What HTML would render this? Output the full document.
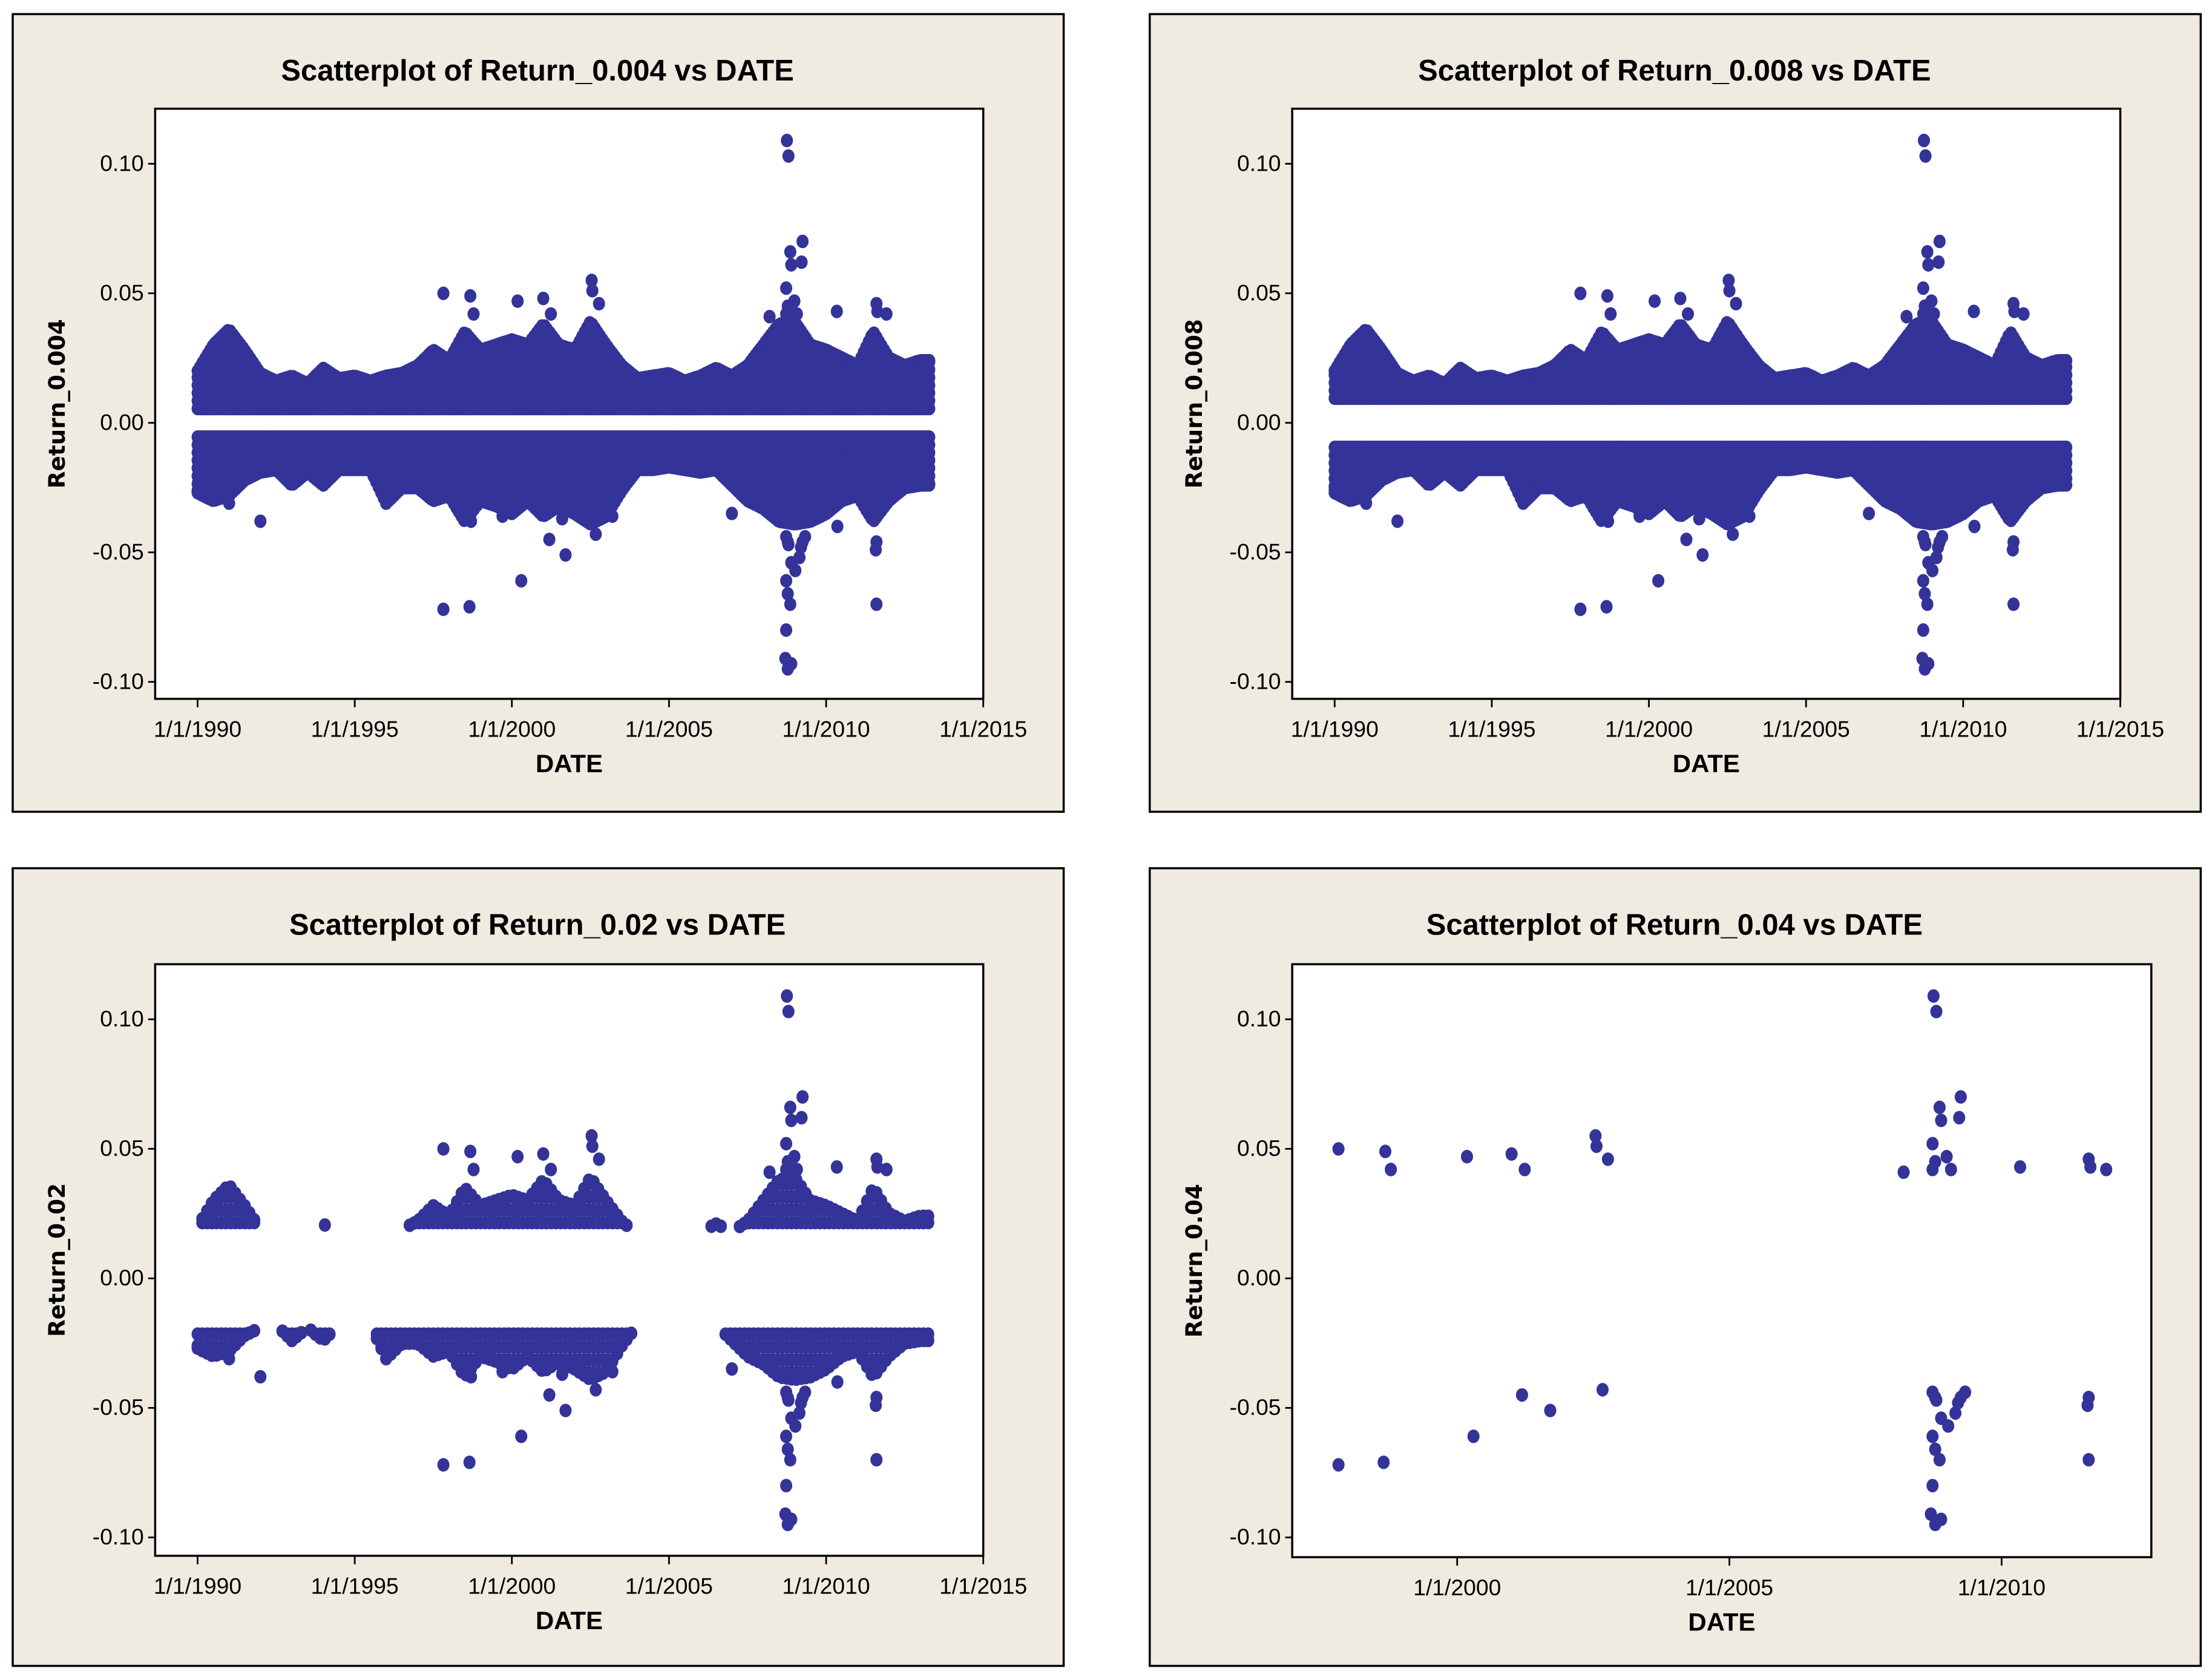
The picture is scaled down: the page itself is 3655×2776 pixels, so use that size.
<!DOCTYPE html>
<html><head><meta charset="utf-8"><style>
html,body{margin:0;padding:0;background:#fff;}
svg{display:block;}
text{font-family:"Liberation Sans Narrow","Liberation Sans",sans-serif;fill:#000;}
</style></head><body>
<svg id="chart" xmlns="http://www.w3.org/2000/svg" width="3655" height="2776" viewBox="0 0 1568 1190" preserveAspectRatio="none"></svg>
<script>
// Dense-band envelope (half-year resolution)
const envYears = [];
for (let y = 1990.0; y <= 2013.01; y += 0.5) envYears.push(Math.round(y*10)/10);
const envUpper = [0.020,0.030,0.036,0.028,0.019,0.016,0.018,0.015,0.021,0.017,0.018,0.016,0.018,0.019,0.022,0.028,0.024,0.035,0.028,0.030,0.032,0.030,0.038,0.030,0.028,0.039,0.030,0.022,0.017,0.018,0.019,0.016,0.018,0.021,0.018,0.022,0.030,0.038,0.039,0.030,0.028,0.025,0.022,0.035,0.025,0.022,0.024];
const envLower = [-0.027,-0.030,-0.028,-0.022,-0.019,-0.018,-0.024,-0.019,-0.024,-0.018,-0.018,-0.018,-0.031,-0.025,-0.025,-0.030,-0.028,-0.038,-0.030,-0.032,-0.035,-0.030,-0.036,-0.032,-0.035,-0.039,-0.036,-0.026,-0.018,-0.018,-0.017,-0.018,-0.019,-0.018,-0.024,-0.030,-0.033,-0.038,-0.039,-0.038,-0.035,-0.030,-0.028,-0.038,-0.030,-0.025,-0.024];
const envEnd = 2013.3;
// Sparse large returns
const outDates = [1997.82,1998.68,1998.78,2000.18,2001.0,2001.24,2002.54,2002.56,2002.77,2008.2,2008.73,2008.75,2008.8,2008.86,2008.89,2008.78,2008.73,2008.99,2009.07,2009.25,2009.22,2010.34,2011.6,2011.63,2011.92,
 1997.82,1998.65,2000.3,2001.19,2001.71,2002.67,2008.78,2008.73,2008.8,2008.89,2008.73,2008.78,2008.86,2008.73,2008.7,2008.78,2008.89,2009.02,2009.15,2009.25,2009.33,2009.2,2010.36,2011.58,2011.6,2011.6,
 1992.0,2007.0,1990.0,1991.0,1998.7,1999.7,2001.6,2003.2];
const outValues = [0.050,0.049,0.042,0.047,0.048,0.042,0.055,0.051,0.046,0.041,0.052,0.109,0.103,0.066,0.061,0.045,0.042,0.047,0.042,0.070,0.062,0.043,0.046,0.043,0.042,
 -0.072,-0.071,-0.061,-0.045,-0.051,-0.043,-0.046,-0.044,-0.047,-0.054,-0.061,-0.066,-0.070,-0.080,-0.091,-0.095,-0.093,-0.057,-0.052,-0.046,-0.044,-0.048,-0.040,-0.049,-0.046,-0.070,
 -0.038,-0.035,-0.026,-0.031,-0.038,-0.036,-0.037,-0.036];
const yTickVals = [0.10,0.05,0.00,-0.05,-0.10];
const yTickLabels = ["0.10","0.05","0.00","-0.05","-0.10"];
const xTicksFull = [1990,1995,2000,2005,2010,2015];
const xTicksShort = [2000,2005,2010];

const NS = "http://www.w3.org/2000/svg";
const svg = document.getElementById('chart');
function mk(tag, attrs, parent){const e=document.createElementNS(NS,tag);for(const k in attrs)e.setAttribute(k,attrs[k]);(parent||svg).appendChild(e);return e;}

const panels = [
 {ox:9,oy:10,name:"Return_0.004",slug:"return-0-004",thr:0.004,xmin:1988.65,xmax:2015,px0:101,px1:688,py0:67,py1:485,ticks:xTicksFull},
 {ox:815,oy:10,name:"Return_0.008",slug:"return-0-008",thr:0.008,xmin:1988.65,xmax:2015,px0:101,px1:688,py0:67,py1:485,ticks:xTicksFull},
 {ox:9,oy:615,name:"Return_0.02",slug:"return-0-02",thr:0.02,xmin:1988.65,xmax:2015,px0:101,px1:688,py0:68,py1:487,ticks:xTicksFull},
 {ox:815,oy:615,name:"Return_0.04",slug:"return-0-04",thr:0.04,xmin:1996.97,xmax:2012.75,px0:101,px1:710,py0:68,py1:488,ticks:xTicksShort}
];

panels.forEach(p=>{
 const g = mk('g',{transform:`translate(${p.ox},${p.oy})`});
 
 
 const bg = mk('rect',{x:0,y:0,width:745,height:565,fill:'#efebe1',stroke:'#000','stroke-width':1.5},g);
 
 
 const xs = v => p.px0 + (v - p.xmin)/(p.xmax - p.xmin)*(p.px1 - p.px0);
 const ys = v => p.oy===10 ? 289.5 - v*1835 : 290.5 - v*1835;
 const t = mk('text',{x:372,y:47,'text-anchor':'middle','font-size':21,'font-weight':'bold'},g);
 t.textContent = 'Scatterplot of '+p.name+' vs DATE';
 
 
 const plot = mk('rect',{x:p.px0,y:p.py0,width:p.px1-p.px0,height:p.py1-p.py0,fill:'#fff',stroke:'#000','stroke-width':1.5},g);
 
 
 yTickVals.forEach((v,i)=>{
  const y=ys(v);
  mk('line',{x1:p.px0-5,x2:p.px0,y1:y,y2:y,stroke:'#000','stroke-width':1.2},g);
  const tl=mk('text',{x:p.px0-8,y:y+5,'text-anchor':'end','font-size':16},g);
  tl.textContent=yTickLabels[i];
  
  
 });
 p.ticks.forEach(v=>{
  const x=xs(v);
  mk('line',{x1:x,x2:x,y1:p.py1,y2:p.py1+6,stroke:'#000','stroke-width':1.2},g);
  const tl=mk('text',{x:x,y:p.py1+27,'text-anchor':'middle','font-size':16},g);
  tl.textContent='1/1/'+v;
  
  
 });
 const xl=mk('text',{x:(p.px0+p.px1)/2,y:p.py1+52,'text-anchor':'middle','font-size':18,'font-weight':'bold'},g);
 xl.textContent='DATE';
 
 
 const yl=mk('text',{x:0,y:0,'text-anchor':'middle','font-size':16,'font-weight':'bold',transform:`translate(37,${(p.py0+p.py1)/2}) rotate(-90)`,style:'font-family:"DejaVu Sans",sans-serif'},g);
 yl.textContent=p.name;
 
 
 const pts = mk('g',{fill:'#333399'},g);
 
 
 function dot(d,r){
  if (Math.abs(r) <= p.thr) return;
  if (d < p.xmin || d > p.xmax) return;
  mk('ellipse',{cx:xs(d).toFixed(1),cy:ys(r).toFixed(1),rx:4.3,ry:4.8},pts);
 }
 const sparse = p.thr >= 0.02;
 const dStep = sparse ? 0.15 : 0.08;
 const rStep = sparse ? 0.005 : 0.003;
 for (let d=1990.0; d<=envEnd; d+=dStep){
  let i=Math.min(Math.floor((d-1990)/0.5), envYears.length-2);
  const f=Math.min(1,(d-envYears[i])/0.5);
  const up=envUpper[i]+(envUpper[i+1]-envUpper[i])*f;
  const lo=envLower[i]+(envLower[i+1]-envLower[i])*f;
  for (let r=Math.max(p.thr,0.004)+0.0015; r<=up; r+=rStep) dot(d,r);
  if (up>p.thr) dot(d,up);
  for (let r=-(Math.max(p.thr,0.004)+0.0015); r>=lo; r-=rStep) dot(d,r);
  if (-lo>p.thr) dot(d,lo);
 }
 outDates.forEach((d,i)=>dot(d,outValues[i]));
});
</script>
</body></html>
